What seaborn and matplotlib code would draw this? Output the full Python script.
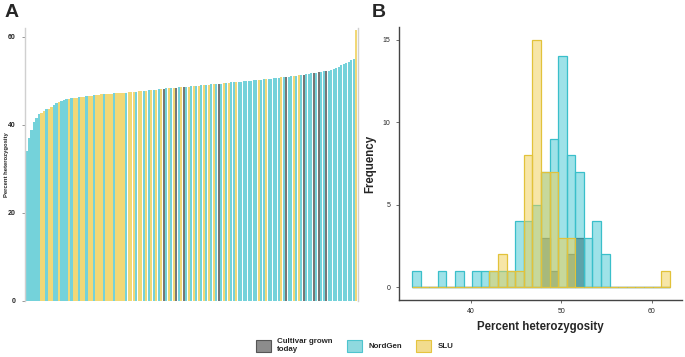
import numpy as np
import pandas as pd
import matplotlib.pyplot as plt
import seaborn as sns
from matplotlib.patches import Patch

# %% data (percent heterozygosity per accession)
nordgen = [34.0, 36.9, 38.8, 40.7, 41.6, 42.5, 43.5, 44.4,
           45.0, 45.3, 45.6, 45.8,
           46.0, 46.2, 46.5, 46.7,
           46.9, 47.1, 47.3, 47.5, 47.7,
           47.8, 47.95, 48.1, 48.25, 48.4, 48.5, 48.65,
           48.75, 48.85, 48.95, 49.05, 49.15, 49.25, 49.35, 49.45, 49.6,
           49.7, 49.75, 49.8, 49.85, 49.9, 49.95, 50.0, 50.05, 50.1, 50.2, 50.3, 50.4, 50.45, 50.55,
           50.65, 50.7, 50.8, 50.9, 51.0, 51.15, 51.3, 51.45,
           51.6, 51.7, 51.8, 51.95, 52.1, 52.25, 52.4,
           52.6, 52.9, 53.2,
           53.5, 53.8, 54.0, 54.3,
           54.6, 55.0]
slu = [42.7, 43.2, 43.6, 44.1, 45.2,
       45.9, 46.05, 46.15, 46.3, 46.4, 46.55, 46.6, 46.75,
       46.82, 46.88, 46.95, 47.0, 47.05, 47.1, 47.15, 47.2, 47.25, 47.35, 47.4, 47.45, 47.55, 47.6, 47.7,
       47.85, 48.0, 48.15, 48.3, 48.45, 48.55, 48.68,
       48.8, 48.9, 49.0, 49.1, 49.2, 49.4, 49.55,
       49.7, 50.15, 50.35,
       50.75, 51.05, 51.25,
       61.5]
cultivar = [48.2, 48.45, 48.6, 49.3, 50.85, 51.35, 51.75, 51.9, 52.2]

group_names = ["Cultivar grown\ntoday", "NordGen", "SLU"]

bar_colors = {"Cultivar grown\ntoday": "#777777", "NordGen": "#74D2DA", "SLU": "#F1D877"}
hist_fill = {"Cultivar grown\ntoday": "#3C3C3C", "NordGen": "#3EC6D2", "SLU": "#F0CF50"}
hist_edge = {"Cultivar grown\ntoday": "#4A4A4A", "NordGen": "#3ABFCA", "SLU": "#E2C23A"}
hist_alpha = {"Cultivar grown\ntoday": 0.65, "NordGen": 0.5, "SLU": 0.5}

df = pd.DataFrame({
    "value": nordgen + slu + cultivar,
    "group": ["NordGen"] * len(nordgen) + ["SLU"] * len(slu) + [group_names[0]] * len(cultivar),
})
df = df.sort_values("value", kind="stable").reset_index(drop=True)
df["rank"] = np.arange(len(df))

sns.set_style("white")
plt.rcParams["font.family"] = ["Liberation Sans", "DejaVu Sans"]

fig = plt.figure(figsize=(6.85, 3.57), dpi=100)
axA = fig.add_axes([0.0365, 0.157, 0.486, 0.765])
axB = fig.add_axes([0.5825, 0.160, 0.413, 0.764])

# %% panel A: sorted bars
sns.barplot(data=df, x="rank", y="value", hue="group", palette=bar_colors,
            dodge=False, width=0.82, saturation=1, errorbar=None,
            linewidth=0, legend=False, ax=axA)
axA.set_xlim(-0.6, len(df) - 0.4)
axA.set_ylim(0, 62)
axA.set_yticks([0, 20, 40, 60])
axA.set_xticks([])
axA.set_xlabel("")
axA.set_ylabel("Percent heterozygosity", fontsize=4.2, fontweight="bold")
axA.yaxis.set_label_coords(-0.047, 0.5)
axA.tick_params(axis="y", labelsize=5, length=2, width=0.6, color="#888888", pad=5, left=True)
for t in axA.get_yticklabels():
    t.set_fontweight("bold")
for s in ["top", "bottom"]:
    axA.spines[s].set_visible(False)
for s in ["left", "right"]:
    axA.spines[s].set_color("#D0D0D0")
    axA.spines[s].set_linewidth(1.0)

# %% panel B: overlaid histograms
for name, vals in [(group_names[0], cultivar), ("NordGen", nordgen), ("SLU", slu)]:
    sns.histplot(x=vals, bins=30, binrange=(33.53, 61.97), color=hist_fill[name],
                 alpha=hist_alpha[name], edgecolor=hist_edge[name], linewidth=0.9, ax=axB)
axB.set_xlim(32.1, 63.3)
axB.set_ylim(-0.75, 15.75)
axB.set_xticks([40, 50, 60])
axB.set_yticks([0, 5, 10, 15])
axB.set_xlabel("Percent heterozygosity", fontsize=8.3, fontweight="bold", labelpad=4)
axB.set_ylabel("Frequency", fontsize=8.3, fontweight="bold", labelpad=5)
axB.tick_params(labelsize=5, length=2, width=0.6, color="#555555", pad=4, left=True, bottom=True)
for s in ["top", "right"]:
    axB.spines[s].set_visible(False)
for s in ["left", "bottom"]:
    axB.spines[s].set_color("#444444")
    axB.spines[s].set_linewidth(1.0)

fig.text(0.006, 0.99, "A", fontsize=14, fontweight="bold", va="top", ha="left")
fig.text(0.543, 0.99, "B", fontsize=14, fontweight="bold", va="top", ha="left")

handles = [Patch(facecolor="#8C8C8C", edgecolor="#555555", linewidth=0.8),
           Patch(facecolor="#8FD9DF", edgecolor="#4EC4CE", linewidth=0.8),
           Patch(facecolor="#F2DC8E", edgecolor="#E5C43F", linewidth=0.8)]
leg = fig.legend(handles, group_names, loc="center", bbox_to_anchor=(0.518, 0.031),
                 ncol=3, frameon=False, fontsize=5.7, handlelength=1.9, handleheight=1.9,
                 columnspacing=1.8, handletextpad=0.8)
for t in leg.get_texts():
    t.set_fontweight("bold")

fig.savefig("out.png", dpi=100)
